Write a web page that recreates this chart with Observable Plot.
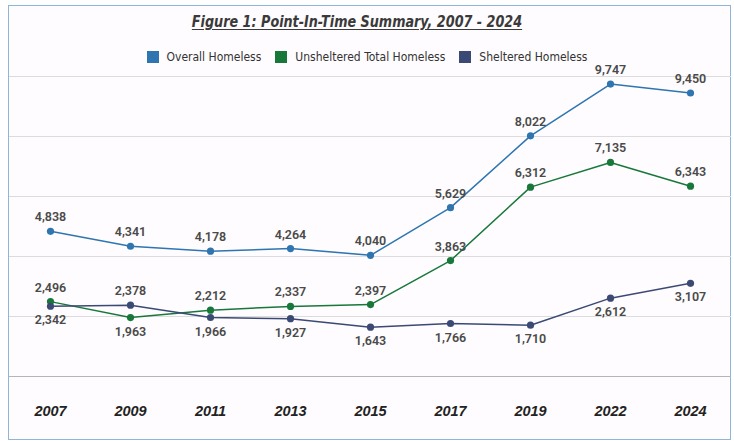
<!DOCTYPE html>
<html>
<head>
<meta charset="utf-8">
<script src="https://cdn.jsdelivr.net/npm/d3@7"></script>
<script src="https://cdn.jsdelivr.net/npm/@observablehq/plot@0.6"></script>
<style>
  html, body { margin: 0; padding: 0; background: #ffffff; }
  #wrap { position: relative; width: 734px; height: 441px; overflow: hidden; background: #ffffff; }
  #frame { position: absolute; left: 8px; top: 5px; width: 721px; height: 433px; border: 1.5px solid #8fb5d8; background: #fefcfe; }
  #title { position: absolute; top: 12px; left: 0; width: 714px; text-align: center; transform: scaleX(0.86); transform-origin: 357px 0;
    font-family: "Liberation Sans Narrow", "DejaVu Sans Condensed", sans-serif; font-style: italic; font-weight: bold;
    font-size: 16.5px; color: #3a3a3a; text-decoration: underline; text-underline-offset: 2px; }
  #legend { position: absolute; top: 50px; left: 0; width: 734px; display: flex; justify-content: center; gap: 14px;
    font-family: "Liberation Sans Narrow", "DejaVu Sans Condensed", sans-serif; font-size: 12px; color: #333; }
  #legend .item { display: flex; align-items: center; gap: 8px; }
  #legend .sw { width: 12px; height: 12px; display: inline-block; }
  #chart { position: absolute; left: 0; top: 60px; }
</style>
</head>
<body>
<div id="wrap">
  <div id="frame"></div>
  <div id="title"></div>
  <div id="legend"></div>
  <div id="chart"></div>
</div>
<script>
const years = ["2007", "2009", "2011", "2013", "2015", "2017", "2019", "2022", "2024"];
const overall = [4838, 4341, 4178, 4264, 4040, 5629, 8022, 9747, 9450];
const unsheltered = [2496, 1963, 2212, 2337, 2397, 3863, 6312, 7135, 6343];
const sheltered = [2342, 2378, 1966, 1927, 1643, 1766, 1710, 2612, 3107];
const seriesNames = ["Overall Homeless", "Unsheltered Total Homeless", "Sheltered Homeless"];
const seriesColors = ["#2f75b0", "#18783a", "#3b4a75"];
const gridValues = [2000, 4000, 6000, 8000, 10000];
const titleText = "Figure 1: Point-In-Time Summary, 2007 - 2024";

document.getElementById("title").textContent = titleText;
const legend = document.getElementById("legend");
seriesNames.forEach((n, i) => {
  const it = document.createElement("div");
  it.className = "item";
  const sw = document.createElement("span");
  sw.className = "sw";
  sw.style.background = seriesColors[i];
  const t = document.createElement("span");
  t.textContent = n;
  it.appendChild(sw); it.appendChild(t);
  legend.appendChild(it);
});

const seriesValues = [overall, unsheltered, sheltered];
const data = [];
seriesValues.forEach((vals, s) => {
  vals.forEach((v, i) => {
    let above = true;
    if (s === 1) above = v >= sheltered[i];
    if (s === 2) above = v > unsheltered[i];
    data.push({ series: seriesNames[s], year: years[i], value: v, above });
  });
});
const fmt = d3.format(",");

const chart = Plot.plot({
  width: 734,
  height: 380,
  marginLeft: 9,
  marginRight: 3,
  marginTop: 16,
  marginBottom: 64,
  style: { background: "transparent", fontFamily: "Roboto, sans-serif" },
  x: { type: "point", domain: years, padding: 0.5, label: null },
  y: { domain: [0, 10000], axis: null },
  color: { domain: seriesNames, range: seriesColors },
  marks: [
    Plot.ruleY(gridValues, { stroke: "#dcdcdc", strokeWidth: 1 }),
    Plot.ruleY([0], { stroke: "#b5b5b5", strokeWidth: 1.2 }),
    Plot.axisX({ tickSize: 0, tickPadding: 29, fontSize: 14.5, fontWeight: "bold", fontStyle: "italic",
      fill: "#222", fontFamily: "Liberation Sans, Arial, sans-serif", label: null }),
    Plot.line(data, { x: "year", y: "value", z: "series", stroke: "series", strokeWidth: 1.5 }),
    Plot.dot(data, { x: "year", y: "value", fill: "series", r: 3.6 }),
    Plot.text(data.filter(d => d.above), { x: "year", y: "value", text: d => fmt(d.value), dy: -14,
      fill: "#4a4a4a", fontSize: 12.5, fontWeight: 600 }),
    Plot.text(data.filter(d => !d.above), { x: "year", y: "value", text: d => fmt(d.value), dy: 14,
      fill: "#4a4a4a", fontSize: 12.5, fontWeight: 600 })
  ]
});
document.getElementById("chart").appendChild(chart);
</script>
</body>
</html>
